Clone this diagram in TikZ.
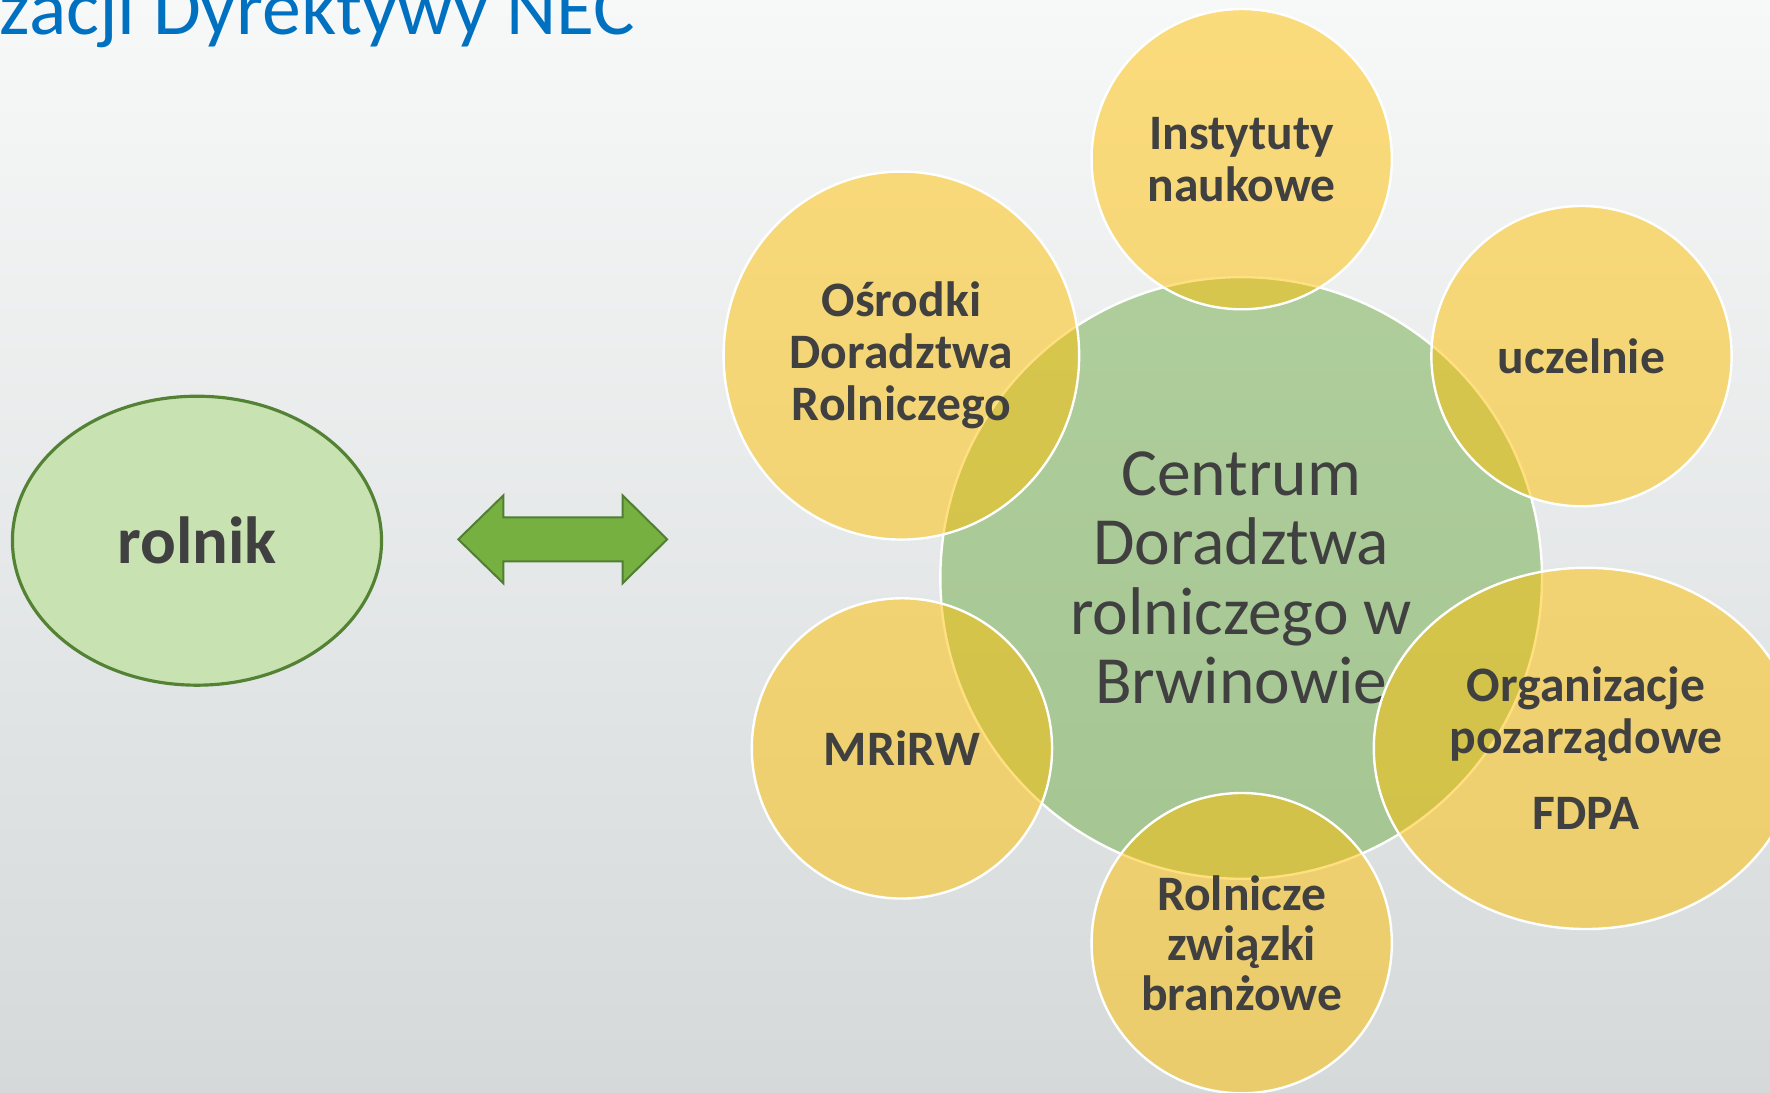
\documentclass[tikz,border=0pt]{standalone}
\usepackage{fontspec}
\setmainfont{Carlito}
\usetikzlibrary{shapes.geometric}
\definecolor{titleblue}{HTML}{0070C0}
\definecolor{gold}{HTML}{FFC000}
\definecolor{leaf}{HTML}{70AD47}
\definecolor{leafpale}{HTML}{C8E2B2}
\definecolor{leafdark}{HTML}{548235}
\definecolor{arrowgreen}{HTML}{76B041}
\definecolor{arrowdark}{HTML}{507E32}
\definecolor{ink}{HTML}{404040}
\definecolor{bgtop}{HTML}{F7F8F8}
\definecolor{bgmid}{HTML}{EDEFEF}
\definecolor{bgbottom}{HTML}{D5D9DA}
\tikzset{
    partner/.style={circle,minimum size=2.66cm,inner sep=0pt,fill=gold,fill opacity=0.5,
        text opacity=1,draw=white,line width=0.6pt,text=ink,align=center,
        font=\fontsize{12.5}{13.1}\selectfont\bfseries},
    partneroval/.style={partner,ellipse},
}
\begin{document}
\begin{tikzpicture}
        \useasboundingbox (0,0) rectangle (15.68,-9.68);
        \clip (0,0) rectangle (15.68,-9.68);
        \shade[top color=bgtop,middle color=bgmid,bottom color=bgbottom] (0,0) rectangle (15.68,-9.68);
        \node[anchor=base west,inner sep=0pt,text=titleblue,font=\fontsize{19.6}{20}\selectfont] (title) at (-0.01,-0.305) {zacji Dyrektywy NEC};
        \node[ellipse,minimum width=3.27cm,minimum height=2.56cm,fill=leafpale,draw=leafdark,line width=0.8pt,
            text=ink,font=\fontsize{16.8}{18}\selectfont\bfseries] (rolnik) at (1.745,-4.79) {rolnik};
        \draw[arrowdark,fill=arrowgreen,line width=0.5pt,line join=miter] (4.06,-4.778) -- (4.46,-4.388) -- (4.46,-4.583)
            -- (5.515,-4.583) -- (5.515,-4.388) -- (5.91,-4.778) -- (5.515,-5.168) -- (5.515,-4.973)
            -- (4.46,-4.973) -- (4.46,-5.168) -- cycle;
        \node[circle,minimum size=5.33cm,inner sep=0pt,fill=leaf,fill opacity=0.5,text opacity=1,draw=white,
            line width=0.6pt,text=ink,align=center,font=\fontsize{17}{17.45}\selectfont] (centrum) at (10.995,-5.12)
            {Centrum\\Doradztwa\\rolniczego w\\Brwinowie};
        \node[partner] (instytuty) at (11.0,-1.41) {Instytuty\\naukowe};
        \node[partneroval,minimum width=3.15cm,minimum height=3.26cm] (osrodki) at (7.985,-3.15) {Ośrodki\\Doradztwa\\Rolniczego};
        \node[partner] (uczelnie) at (14.01,-3.155) {uczelnie};
        \node[partneroval,minimum width=3.76cm,minimum height=3.2cm] (organizacje) at (14.05,-6.63) {Organizacje\\pozarządowe\\[6pt]FDPA};
        \node[partner] (mrirw) at (7.99,-6.63) {MRiRW};
        \node[partner,font=\fontsize{12.5}{12.6}\selectfont\bfseries] (zwiazki) at (11.0,-8.355) {Rolnicze\\związki\\branżowe};
\end{tikzpicture}
\end{document}
